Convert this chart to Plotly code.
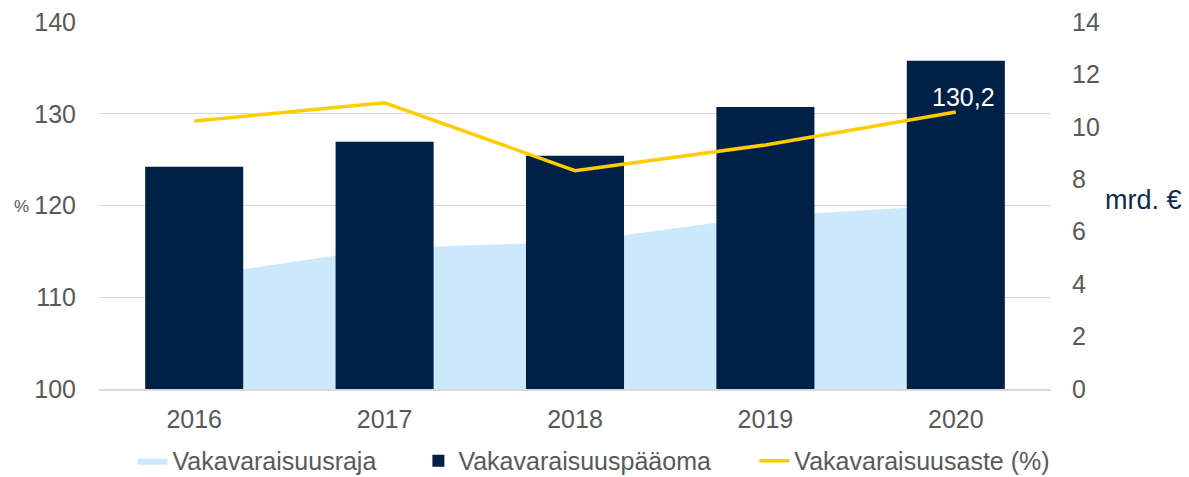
import plotly.graph_objects as go

years = ["2016", "2017", "2018", "2019", "2020"]
raja = [4.29, 5.37, 5.61, 6.60, 7.02]          # mrd. € (area)
paaoma = [8.48, 9.43, 8.90, 10.76, 12.52]      # mrd. € (bars)
aste = [129.2, 131.2, 123.8, 126.6, 130.2]     # % (line)

names = ["Vakavaraisuusraja", "Vakavaraisuuspääoma", "Vakavaraisuusaste (%)"]

FONT = "Arial, Liberation Sans, sans-serif"
GRAY = "#595959"
NAVY = "#002147"
LIGHT = "#CCE9FC"
YELLOW = "#FFCC00"
FS = 25

fig = go.Figure()
# area on main axis (drawn first / lowest)
fig.add_trace(go.Scatter(x=years, y=raja, name=names[0], mode="lines",
                         line=dict(width=0, color=LIGHT),
                         fill="tozeroy", fillcolor=LIGHT, yaxis="y",
                         legend="legend", showlegend=True))
# bars on an overlay axis with the same mrd. € scale
fig.add_trace(go.Bar(x=years, y=paaoma, name=names[1], marker_color=NAVY,
                     marker_line_width=0, yaxis="y2", legend="legend2",
                     showlegend=True))
# line on the % axis (topmost overlay)
fig.add_trace(go.Scatter(x=years, y=aste, name=names[2], mode="lines",
                         line=dict(color=YELLOW, width=3.5), yaxis="y3",
                         legend="legend3", showlegend=True))

last = len(years) - 1
fig.add_annotation(x=last, y=aste[last], xref="x", yref="y3",
                   text=f"{aste[last]:.1f}".replace(".", ","),
                   showarrow=False, xshift=8, yshift=15,
                   font=dict(family=FONT, size=FS, color="white"))
fig.add_annotation(xref="paper", yref="paper", x=1.0546, y=0.515,
                   xanchor="left", yanchor="middle", text="mrd. €",
                   showarrow=False,
                   font=dict(family=FONT, size=27, color="#0D2B52"))
fig.add_annotation(xref="paper", yref="paper", x=-0.0915, y=0.498,
                   xanchor="left", yanchor="middle", text="%",
                   showarrow=False,
                   font=dict(family=FONT, size=17, color=GRAY))

legfont = dict(family=FONT, size=FS, color=GRAY)
common_leg = dict(orientation="h", yanchor="middle", y=-0.196,
                  xanchor="left", font=legfont, bgcolor="rgba(0,0,0,0)",
                  itemwidth=30)

tickf = dict(family=FONT, size=FS, color=GRAY)

fig.update_layout(
    width=1189, height=477,
    margin=dict(l=99, r=138, t=22, b=88, autoexpand=False),
    paper_bgcolor="white", plot_bgcolor="white",
    showlegend=True,
    bargap=0.485,
    legend=dict(x=0.0352, **common_leg),
    legend2=dict(x=0.3355, **common_leg),
    legend3=dict(x=0.6884, **common_leg),
    xaxis=dict(type="category", range=[-0.5, len(years) - 0.5],
               showgrid=False, showline=True,
               linecolor="#D9D9D9", linewidth=1.5, ticks="",
               tickfont=tickf, ticklabelstandoff=7),
    yaxis=dict(side="right", range=[0, 14], dtick=2, showgrid=False,
               zeroline=False, showline=False, ticks="",
               tickfont=tickf, ticklabelstandoff=20),
    yaxis2=dict(overlaying="y", side="right", range=[0, 14], visible=False,
                showgrid=False, zeroline=False),
    yaxis3=dict(side="left", overlaying="y", range=[100, 140], dtick=10,
                showgrid=True, gridcolor="#D9D9D9", gridwidth=1.3,
                zeroline=False, showline=False, ticks="",
                tickfont=tickf, ticklabelstandoff=22),
)

fig.write_html("out.html", config={"displayModeBar": False},
               post_script="document.body.style.margin='0';")
